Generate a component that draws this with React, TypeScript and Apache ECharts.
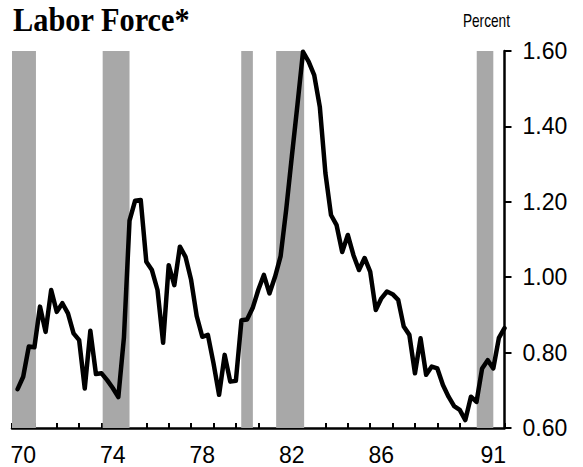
import React, { useEffect, useRef } from "react";
import * as echarts from "echarts";

// Year bands on the category axis (labels centred in each year)
const yearLabels = [
  "70", "71", "72", "73", "74", "75", "76", "77", "78", "79", "80",
  "81", "82", "83", "84", "85", "86", "87", "88", "89", "90", "91",
];
const shownYearLabels = ["70", "74", "78", "82", "86", "91"];
const firstYear = 1970;
const lastYear = 1992;

// Quarterly values, 1970Q1 .. 1991Q4 (percent)
const laborForceShare = [
  0.703, 0.736, 0.816, 0.814, 0.922, 0.855, 0.966, 0.908,
  0.931, 0.904, 0.851, 0.833, 0.705, 0.858, 0.743, 0.745,
  0.727, 0.706, 0.682, 0.84, 1.15, 1.203, 1.205, 1.041,
  1.019, 0.966, 0.826, 1.032, 0.979, 1.081, 1.054, 0.993,
  0.897, 0.842, 0.847, 0.772, 0.688, 0.794, 0.723, 0.725,
  0.886, 0.888, 0.918, 0.966, 1.006, 0.957, 1.001, 1.056,
  1.18, 1.32, 1.457, 1.598, 1.572, 1.536, 1.452, 1.276,
  1.165, 1.138, 1.067, 1.112, 1.059, 1.019, 1.051, 1.015,
  0.913, 0.944, 0.962, 0.955, 0.94, 0.869, 0.847, 0.745,
  0.838, 0.741, 0.763, 0.758, 0.714, 0.683, 0.658, 0.648,
  0.621, 0.683, 0.669, 0.758, 0.78, 0.758, 0.839, 0.865,
];

// Shaded recession periods (in years)
const recessionBands: [number, number][] = [
  [1970.0, 1971.07],
  [1974.05, 1975.25],
  [1980.24, 1980.76],
  [1981.8, 1983.05],
  [1990.76, 1991.5],
];

const yMin = 0.6;
const yMax = 1.6;
const yStep = 0.2;

const titleText = "Labor Force*";
const unitText = "Percent";

export default function App() {
  const ref = useRef<HTMLDivElement>(null);

  useEffect(() => {
    if (!ref.current) return;
    const chart = echarts.init(ref.current, undefined, { renderer: "svg" });
    const lineData = laborForceShare.map((v, i) => [firstYear + (i + 1) / 4, v]);

    chart.setOption({
      animation: false,
      backgroundColor: "#ffffff",
      grid: { left: 12, right: 78.5, top: 51, bottom: 39, containLabel: false },
      graphic: [
        {
          type: "text",
          x: 13,
          y: 20,
          scaleX: 0.92,
          style: {
            text: titleText,
            font: "bold 33px 'Liberation Serif', serif",
            fill: "#000",
            align: "left",
            verticalAlign: "middle",
          },
        },
        {
          type: "text",
          x: 510,
          y: 21,
          scaleX: 0.76,
          style: {
            text: unitText,
            font: "18px 'Liberation Sans', sans-serif",
            fill: "#000",
            align: "right",
            verticalAlign: "middle",
          },
        },
      ],
      xAxis: [
        {
          type: "category",
          data: yearLabels,
          boundaryGap: true,
          position: "bottom",
          axisLine: { show: true, lineStyle: { color: "#000", width: 2.5 } },
          axisTick: { show: true, inside: true, length: 5, interval: 0, lineStyle: { color: "#000", width: 2 } },
          axisLabel: {
            interval: (_i: number, v: string) => shownYearLabels.includes(v),
            color: "#000",
            fontSize: 23,
            fontFamily: "'Liberation Sans', sans-serif",
            margin: 15,
          },
          splitLine: { show: false },
        },
        {
          type: "value",
          min: firstYear,
          max: lastYear,
          show: false,
        },
      ],
      yAxis: {
        type: "value",
        position: "right",
        min: yMin,
        max: yMax,
        interval: yStep,
        axisLine: { show: true, lineStyle: { color: "#000", width: 2.5 } },
        axisTick: { show: true, inside: false, length: 7, lineStyle: { color: "#000", width: 2 } },
        axisLabel: {
          color: "#000",
          fontSize: 23,
          fontFamily: "'Liberation Sans', sans-serif",
          margin: 18,
          formatter: (v: number) => v.toFixed(2),
        },
        splitLine: { show: false },
      },
      series: [
        {
          type: "line",
          xAxisIndex: 1,
          data: lineData,
          showSymbol: false,
          symbol: "none",
          lineStyle: { color: "#000", width: 4.5, join: "round", cap: "round" },
          z: 3,
          markArea: {
            silent: true,
            itemStyle: { color: "#a8a8a8" },
            data: recessionBands.map(([a, b]) => [{ xAxis: a }, { xAxis: b }]),
          },
        },
      ],
    });

    return () => chart.dispose();
  }, []);

  return (
    <div
      ref={ref}
      style={{ position: "fixed", left: 0, top: 0, width: 583, height: 467 }}
    />
  );
}
